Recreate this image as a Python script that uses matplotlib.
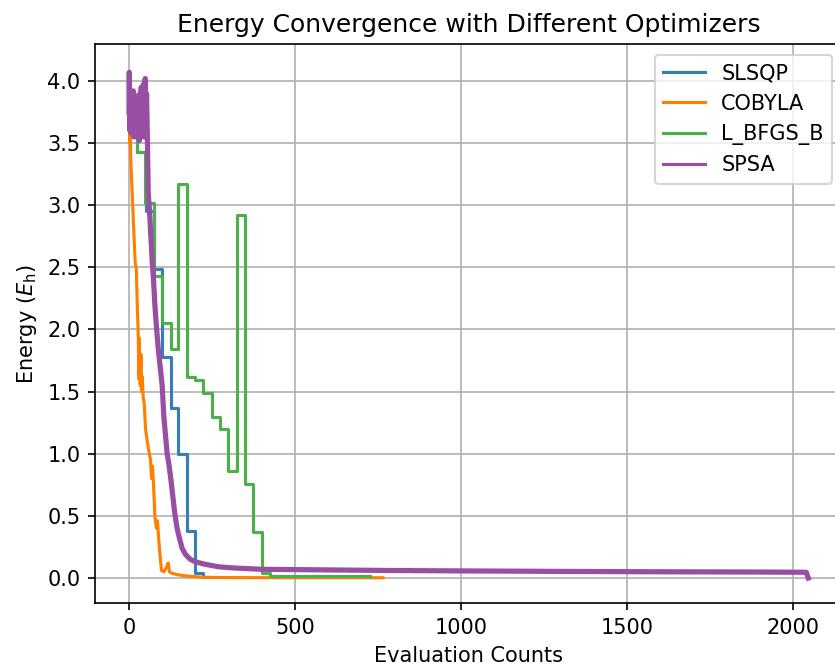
import matplotlib
matplotlib.use("Agg")
import matplotlib.pyplot as plt

# ---- data ----
slsqp_x = [0, 25, 50, 76, 100, 126, 149, 174, 199, 224, 245]
slsqp_y = [3.80, 3.43, 2.95, 2.49, 1.78, 1.37, 1.00, 0.38, 0.04, 0.005, 0.005]

cobyla_x = [0, 1, 2, 3, 5, 8, 12, 16, 19, 22, 25, 28, 30, 31, 34, 36, 38, 40, 43, 46,
            50, 55, 60, 65, 68, 71, 74, 78, 80, 83, 86, 90, 94, 98, 105, 112, 118, 122,
            128, 140, 160, 180, 200, 230, 300, 500, 765]
cobyla_y = [3.80, 3.90, 3.50, 3.75, 3.40, 3.20, 2.95, 2.70, 2.53, 2.50, 2.20, 1.95, 1.60,
            1.93, 1.55, 1.80, 1.50, 1.62, 1.45, 1.40, 1.20, 1.10, 1.02, 0.95, 0.80, 0.90,
            0.75, 0.50, 0.45, 0.40, 0.46, 0.30, 0.17, 0.06, 0.05, 0.08, 0.12, 0.05, 0.04,
            0.03, 0.02, 0.015, 0.01, 0.005, 0.003, 0.002, 0.002]

lbfgs_x = [0, 24, 48, 76, 100, 126, 149, 174, 199, 224, 249, 274, 299, 324, 349, 374,
           400, 425, 460, 725]
lbfgs_y = [3.80, 3.43, 3.02, 2.43, 2.05, 1.84, 3.17, 1.615, 1.594, 1.486, 1.293, 1.20,
           0.864, 2.92, 0.757, 0.373, 0.038, 0.016, 0.012, 0.012]

spsa_x = [0, 1, 3, 5, 7, 9, 11, 13, 15, 17, 19, 21, 23, 25, 27, 29, 31, 33, 35, 37, 39,
          41, 43, 45, 47, 49, 51, 53, 56, 58, 62, 66, 70, 74, 78, 82, 88, 94, 100, 105,
          110, 115, 120, 126, 132, 138, 145, 152, 160, 170, 185, 200, 230, 270, 320, 400,
          600, 800, 1000, 1300, 1600, 1900, 2040, 2046]
spsa_y = [3.75, 4.07, 3.60, 3.90, 3.58, 3.85, 3.62, 3.92, 3.55, 3.85, 3.60, 3.80, 3.55,
          3.88, 3.58, 3.82, 3.52, 3.90, 3.60, 3.95, 3.55, 3.85, 3.62, 3.98, 3.55, 4.02,
          3.60, 3.90, 3.45, 3.10, 2.95, 2.75, 2.55, 2.40, 2.20, 2.05, 1.85, 1.70, 1.55,
          1.30, 1.15, 1.00, 0.92, 0.80, 0.66, 0.52, 0.40, 0.32, 0.24, 0.19, 0.15, 0.13,
          0.11, 0.09, 0.08, 0.07, 0.065, 0.06, 0.057, 0.053, 0.05, 0.048, 0.046, 0.0]

labels = ["SLSQP", "COBYLA", "L_BFGS_B", "SPSA"]
colors = ["#377eb8", "#ff7f00", "#4daf4a", "#984ea3"]

# ---- figure ----
W, H, DPI = 835, 670, 150
fig = plt.figure(figsize=(W / DPI, H / DPI), dpi=DPI)
left, right, top, bottom = 95, 842.6, 44.4, 603.4
ax = fig.add_axes([left / W, (H - bottom) / H, (right - left) / W, (bottom - top) / H])

ax.plot(slsqp_x, slsqp_y, drawstyle="steps-post", color=colors[0], lw=1.5, label=labels[0])
ax.plot(cobyla_x, cobyla_y, color=colors[1], lw=1.5, label=labels[1])
ax.plot(lbfgs_x, lbfgs_y, drawstyle="steps-post", color=colors[2], lw=1.5, label=labels[2])
ax.plot(spsa_x, spsa_y, color=colors[3], lw=2.5, label=labels[3])

ax.set_xlim(-102.3, 2149.3)
ax.set_ylim(-0.2045, 4.2945)
ax.grid(True)
ax.set_title("Energy Convergence with Different Optimizers")
ax.set_xlabel("Evaluation Counts")
ax.set_ylabel(r"Energy ($E_\mathrm{h}$)")
leg = ax.legend(loc="upper right")
for h in leg.get_lines():
    h.set_linewidth(1.5)

fig.savefig("out.png", dpi=DPI)
